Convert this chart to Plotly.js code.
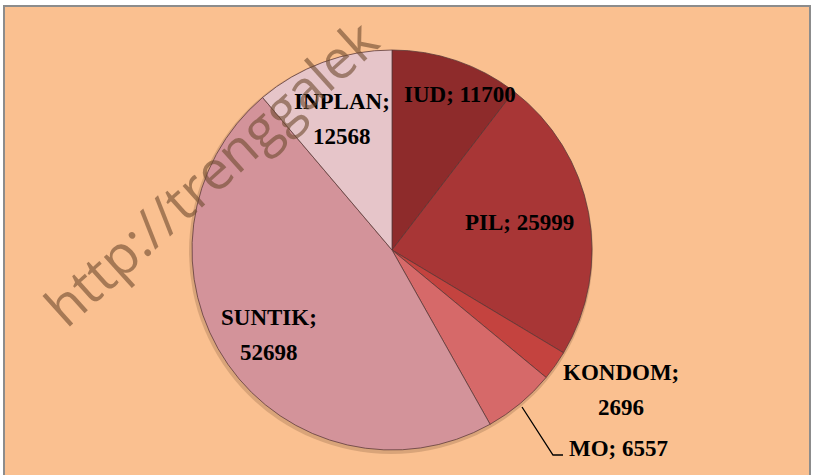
<!DOCTYPE html>
<html>
<head>
<meta charset="utf-8">
<script src="https://cdn.plot.ly/plotly-3.0.1.min.js"></script>
<style>html,body{margin:0;padding:0;background:#fff;}#chart{width:813px;height:475px;}</style>
</head>
<body>
<div id="chart"></div>
<script>
// ---- data ----
const labels = ['IUD', 'PIL', 'KONDOM', 'MO', 'SUNTIK', 'INPLAN'];
const values = [11700, 25999, 2696, 6557, 52698, 12568];
const watermarkText = 'http://trenggalek';

// ---- styling / layout (not data) ----
const sliceColors = ['#8E2B2B', '#A83636', '#C4433F', '#D66969', '#D3939A', '#E6C5C9'];
const W = 813, H = 475;
const labelPlacement = [
  {split: false, at: [[460, 95]]},
  {split: false, at: [[519, 222]]},
  {split: true,  at: [[621, 372], [621, 407]]},
  {split: false, at: [[618, 448]]},
  {split: true,  at: [[269, 317], [269, 352]]},
  {split: true,  at: [[342, 102], [342, 137]]}
];
const px = x => x / W;
const py = y => 1 - y / H;

const annotations = [];
labels.forEach((lab, i) => {
  const p = labelPlacement[i];
  const lines = p.split ? [lab + ';', String(values[i])] : [lab + '; ' + values[i]];
  lines.forEach((t, k) => {
    annotations.push({
      text: '<b>' + t + '</b>', xref: 'paper', yref: 'paper',
      x: px(p.at[k][0]), y: py(p.at[k][1]), xanchor: 'center', yanchor: 'middle',
      showarrow: false,
      font: {family: '"Liberation Serif", "Times New Roman", serif', size: 23, color: '#000'}
    });
  });
});
annotations.push({
  text: watermarkText, xref: 'paper', yref: 'paper',
  x: px(210), y: py(172), xanchor: 'center', yanchor: 'middle',
  showarrow: false, textangle: -42,
  font: {family: '"Open Sans", sans-serif', size: 54, color: 'rgba(110,74,46,0.6)'}
});

const trace = {
  type: 'pie', labels: labels, values: values, sort: false,
  direction: 'clockwise', rotation: 0, textinfo: 'none', hoverinfo: 'label+value',
  marker: {colors: sliceColors, line: {color: 'rgba(90,55,55,0.75)', width: 1}},
  domain: {x: [px(192), px(592)], y: [py(450), py(50)]},
  showlegend: false
};

const layout = {
  width: W, height: H, margin: {l: 0, r: 0, t: 0, b: 0},
  paper_bgcolor: '#ffffff', showlegend: false,
  shapes: [
    {type: 'rect', xref: 'paper', yref: 'paper', x0: px(4), x1: px(810), y0: -0.2, y1: py(6),
     fillcolor: '#FAC090', line: {color: '#8C8C8C', width: 2}, layer: 'below'},
    {type: 'circle', xref: 'paper', yref: 'paper', x0: px(189), x1: px(593), y0: py(454), y1: py(50),
     fillcolor: 'rgba(120,80,50,0.25)', line: {width: 0}, layer: 'below'},
    {type: 'path', xref: 'paper', yref: 'paper',
     path: 'M ' + px(522) + ' ' + py(407) + ' L ' + px(553) + ' ' + py(455) + ' L ' + px(563) + ' ' + py(455),
     line: {color: '#000', width: 1.3}, layer: 'above'}
  ],
  annotations: annotations
};

Plotly.newPlot('chart', [trace], layout, {displayModeBar: false, staticPlot: true});
</script>
</body>
</html>
